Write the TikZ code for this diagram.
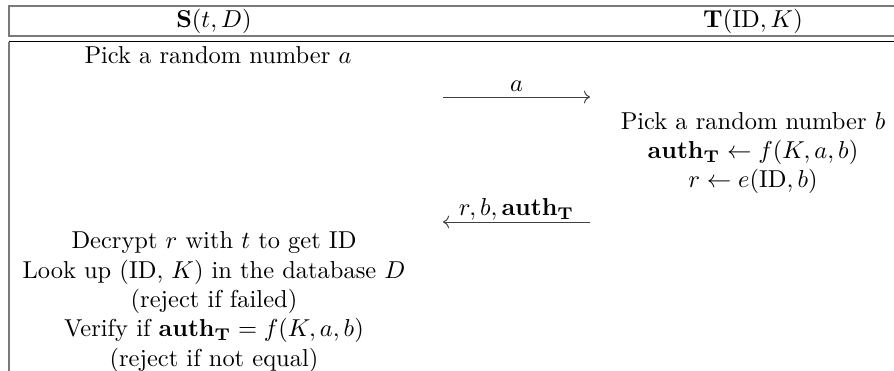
\documentclass[tikz,border=0pt]{standalone}
\usetikzlibrary{arrows.meta,positioning}
\definecolor{rulegray}{HTML}{7A7A7A}
\tikzset{>=To,
  every node/.style={font=\normalsize,inner sep=0pt},
  hdrbox/.style={draw=rulegray,line width=.45pt},
  bodyrule/.style={draw=black,line width=.6pt},
  sideline/.style={draw=rulegray,line width=.45pt},
  partytext/.style={align=center},
  msg/.style={->,draw=black!75,line width=.4pt}}
\newcommand{\authT}{\mathbf{auth}_{\mathbf{T}}}

\begin{document}
\begin{tikzpicture}[x=.4087pt,y=-.4087pt]
\clip (0,0) rectangle (894,370);
% header row
\draw[hdrbox] (9,6) rectangle (910,36);
\node (hdrS) at (214,21) {$\mathbf{S}(t,D)$};
\node (hdrT) at (753,21) {$\mathbf{T}(\mathrm{ID},K)$};
% body frame
\draw[bodyrule] (9,41.5)--(910,41.5);
\draw[sideline] (9,41.5)--(9,380);
% S picks a
\node[partytext] (pickA) at (218,55) {Pick a random number $a$};
\coordinate (aL) at (443,97);\coordinate (aR) at (590,97);
\draw[msg] (aL)--(aR) node[midway,above=2pt] (msgA) {$a$};
% T answers
\node[partytext] (pickB) at (753,153) {Pick a random number $b$\\$\authT\leftarrow f(K,a,b)$\\$r\leftarrow e(\mathrm{ID},b)$};
\coordinate (bL) at (443,222);\coordinate (bR) at (590,222);
\draw[msg] (bR)--(bL) node[midway,above=.4pt] (msgB) {$r,b,\authT$};
% S checks
\node[partytext] (checkS) at (214,302) {Decrypt $r$ with $t$ to get ID\\Look up (ID, $K$) in the database $D$\\(reject if failed)\\Verify if $\authT=f(K,a,b)$\\(reject if not equal)};
\end{tikzpicture}
\end{document}
